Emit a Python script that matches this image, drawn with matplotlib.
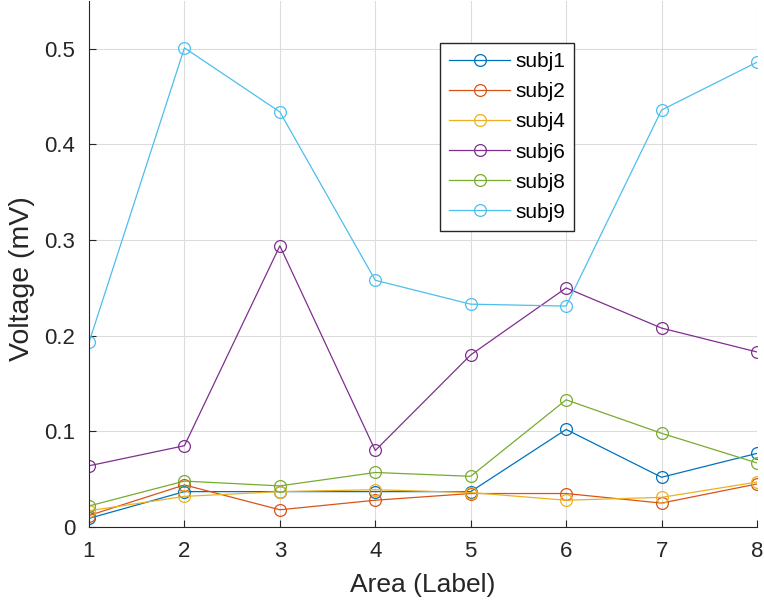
import matplotlib.pyplot as plt

plt.rcParams['font.family'] = ['Liberation Sans', 'DejaVu Sans']

areas = [1, 2, 3, 4, 5, 6, 7, 8]
subj1 = [0.009, 0.037, 0.037, 0.037, 0.037, 0.102, 0.052, 0.077]
subj2 = [0.012, 0.044, 0.018, 0.028, 0.035, 0.035, 0.025, 0.045]
subj4 = [0.017, 0.032, 0.037, 0.039, 0.036, 0.028, 0.031, 0.047]
subj6 = [0.064, 0.085, 0.294, 0.080, 0.180, 0.250, 0.208, 0.183]
subj8 = [0.022, 0.048, 0.043, 0.057, 0.053, 0.133, 0.098, 0.067]
subj9 = [0.193, 0.501, 0.434, 0.258, 0.233, 0.231, 0.436, 0.486]
labels = ['subj1', 'subj2', 'subj4', 'subj6', 'subj8', 'subj9']
series = [subj1, subj2, subj4, subj6, subj8, subj9]
colors = ['#0072BD', '#D95319', '#EDB120', '#7E2F8E', '#77AC30', '#4DBEEE']

fig = plt.figure(figsize=(7.64, 6.08), dpi=100)
ax = fig.add_axes([89 / 764, 81 / 608, 668 / 764, 526 / 608])

for vals, lab, c in zip(series, labels, colors):
    ax.plot(areas, vals, color=c, lw=0.9, marker='o', ms=8.5,
            mfc='none', mec=c, mew=0.9, label=lab)

ax.set_xlim(1, 8)
ax.set_ylim(0, 0.55)
ax.set_xticks(areas)
ax.set_yticks([0, 0.1, 0.2, 0.3, 0.4, 0.5])
ax.set_yticklabels(['0', '0.1', '0.2', '0.3', '0.4', '0.5'])
ax.grid(True, color='#dcdcdc', lw=0.8)
ax.set_axisbelow(True)
for s in ['top', 'right']:
    ax.spines[s].set_visible(False)
for s in ['left', 'bottom']:
    ax.spines[s].set_color('#262626')
ax.tick_params(direction='in', length=5, colors='#262626', labelsize=16, pad=10)

ax.set_xlabel('Area (Label)', fontsize=19, color='#262626')
ax.set_ylabel('Voltage (mV)', fontsize=20.5, color='#262626')
ax.xaxis.set_label_coords(0.5, -0.087)
ax.yaxis.set_label_coords(-0.081, 0.4715)

leg = ax.legend(loc='upper left', bbox_to_anchor=(351 / 668, 1 - 42 / 526),
                fontsize=15, frameon=True, fancybox=False, edgecolor='#262626',
                framealpha=1, handlelength=2.9, borderpad=0.45,
                labelspacing=0.53, handletextpad=0.25, borderaxespad=0)
leg.get_frame().set_linewidth(1.0)

fig.savefig('out.png', dpi=100)
